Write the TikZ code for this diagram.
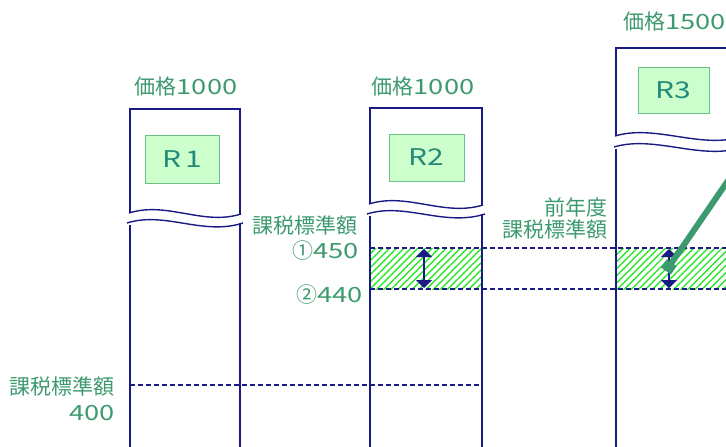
\documentclass[tikz,border=0pt]{standalone}
\usepackage{fontspec}
\setmainfont{Noto Sans CJK JP}
\newfontfamily\dg[FakeStretch=1.3]{Noto Sans CJK JP}
\usetikzlibrary{arrows.meta,patterns.meta}
\definecolor{tg}{HTML}{3C9A6E}
\definecolor{nv}{HTML}{1A1A85}
\definecolor{bxf}{HTML}{CCFFCC}
\definecolor{bxd}{HTML}{6BBF8A}
\definecolor{bxt}{HTML}{238A7A}
\definecolor{ht}{HTML}{2BE82B}
\tikzset{
  colline/.style={draw=nv,line width=1.4pt},
  rbox/.style={draw=bxd,fill=bxf,line width=1pt,minimum width=74pt,minimum height=48pt,inner sep=0pt,text=bxt,font=\dg\fontsize{23}{25}\selectfont},
  lbl/.style={text=tg,font=\fontsize{21}{23}\selectfont,inner sep=0pt},
  dashln/.style={draw=nv,line width=1.1pt,dash pattern=on 5pt off 3pt},
  hatch/.style={pattern={Lines[angle=45,distance=5pt,line width=1.4pt]},pattern color=ht},
  dbl/.style={draw=nv,line width=1.6pt,{Triangle[width=16pt,length=8pt]}-{Triangle[width=16pt,length=8pt]}},
  gline/.style={draw=tg,line width=6pt,-{Square[length=10pt,width=12pt]}}
}
\begin{document}
\begin{tikzpicture}[x=1pt,y=-1pt]
\useasboundingbox (0,0) rectangle (726,447);
\clip (0,0) rectangle (726,447);
% hatched bands
\fill[hatch] (371,248) rectangle (481,289);
\fill[hatch] (617,248) rectangle (730,289);
% dashed lines
\draw[dashln] (370,248) -- (730,248);
\draw[dashln] (370,289) -- (730,289);
\draw[dashln] (130,385) -- (482,385);
% column 1
\draw[colline] (130,213) -- (130,109) -- (240,109) -- (240,214);
\draw[colline] (129,213) .. controls (167,201) and (203,226) .. (241,214);
\draw[colline] (127,223) .. controls (165,211) and (203,236) .. (243,223);
\draw[colline] (130,225) -- (130,450);
\draw[colline] (240,223) -- (240,450);
% column 2
\draw[colline] (370,204) -- (370,108) -- (482,108) -- (482,205);
\draw[colline] (369,204) .. controls (407,192) and (444,217) .. (483,205);
\draw[colline] (367,214) .. controls (405,202) and (444,227) .. (485,214);
\draw[colline] (370,216) -- (370,450);
\draw[colline] (482,214) -- (482,450);
% column 3
\draw[colline] (616,136) -- (616,48) -- (740,48);
\draw[colline] (615,136) .. controls (655,124) and (700,149) .. (740,137);
\draw[colline] (614,147) .. controls (654,135) and (700,160) .. (740,148);
\draw[colline] (616,149) -- (616,450);
% boxes
\node[rbox] (r1) at (182,159) {R\,1};
\node[rbox,minimum width=75pt,minimum height=47pt] (r2) at (426.5,157.5) {R2};
\node[rbox,minimum width=71pt,minimum height=46pt] (r3) at (673.5,90) {R3};
% labels
\node[lbl] (p1) at (186,87) {価格{\dg 1000}};
\node[lbl] (p2) at (423,87) {価格{\dg 1000}};
\node[lbl,anchor=west] (p3) at (623,22) {価格{\dg 1500}};
\node[lbl,anchor=east] (k1) at (358,225) {課税標準額};
\node[lbl,anchor=east] (v1) at (359,251) {①{\dg 450}};
\node[lbl,anchor=east] (v2) at (363,295) {②{\dg 440}};
\node[lbl,anchor=east] (z1) at (608,207) {前年度};
\node[lbl,anchor=east] (z2) at (608,229) {課税標準額};
\node[lbl,anchor=east] (k2) at (115,386) {課税標準額};
\node[lbl,anchor=east] (v3) at (115,413) {{\dg 400}};
% double arrows
\coordinate (a1t) at (424,249);
\coordinate (a1b) at (424,288);
\coordinate (a2t) at (669,249);
\coordinate (a2b) at (669,288);
\draw[dbl] (a1t) -- (a1b);
\draw[dbl] (a2t) -- (a2b);
% green pointer
\coordinate (gs) at (760,134);
\coordinate (ge) at (666,271);
\draw[gline] (gs) -- (ge);
\end{tikzpicture}
\end{document}
